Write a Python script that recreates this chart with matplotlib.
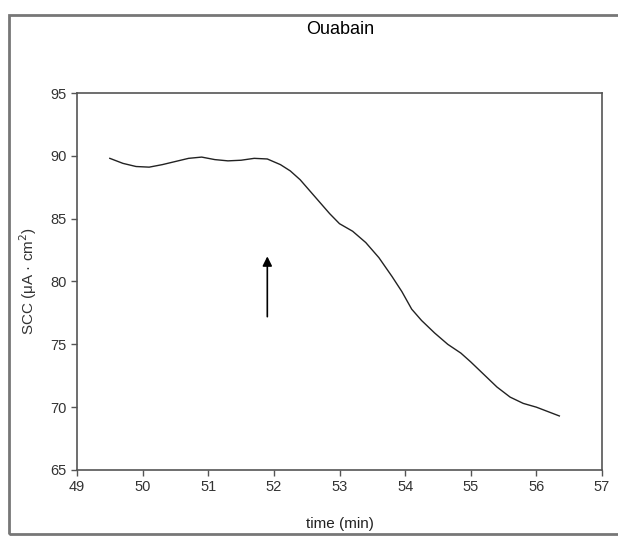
import matplotlib
matplotlib.use("Agg")
import matplotlib.pyplot as plt
from matplotlib.patches import Rectangle

plt.rcParams['font.family'] = ['Liberation Sans', 'DejaVu Sans']

# SCC trace
time_min = [49.5, 49.7, 49.9, 50.1, 50.3, 50.5, 50.7, 50.9, 51.1, 51.3, 51.5,
            51.7, 51.9, 52.1, 52.25, 52.4, 52.55, 52.7, 52.85, 53.0, 53.2,
            53.4, 53.6, 53.8, 53.95, 54.1, 54.25, 54.45, 54.65, 54.85, 55.0,
            55.2, 55.4, 55.6, 55.8, 56.0, 56.2, 56.35]
scc = [89.8, 89.4, 89.15, 89.1, 89.3, 89.55, 89.8, 89.9, 89.7, 89.6, 89.65,
       89.8, 89.75, 89.3, 88.8, 88.1, 87.2, 86.3, 85.4, 84.6, 84.0,
       83.1, 81.9, 80.4, 79.2, 77.8, 76.9, 75.9, 75.0, 74.3, 73.6,
       72.6, 71.6, 70.8, 70.3, 70.0, 69.6, 69.3]

arrow_x = 51.9
arrow_tail = 77.2
arrow_tip = 82.0

fig = plt.figure(figsize=(6.18, 5.36), dpi=100)
ax = fig.add_axes([77 / 618, 1 - 470 / 536, 525 / 618, 377 / 536])

ax.plot(time_min, scc, color='#222222', lw=1.0)
ax.annotate('', xy=(arrow_x, arrow_tip), xytext=(arrow_x, arrow_tail),
            arrowprops=dict(arrowstyle='-|>', color='black', lw=1.2,
                            mutation_scale=14, shrinkA=0, shrinkB=0))

ax.set_xlim(49, 57)
ax.set_ylim(65, 95)
ax.set_xticks(range(49, 58))
ax.set_yticks(range(65, 96, 5))
ax.tick_params(direction='out', length=4, width=1, colors='#555555',
               labelcolor='#333333', labelsize=10.5)
for s in ax.spines.values():
    s.set_color('#555555')
    s.set_linewidth(1.2)

ax.set_xlabel('time (min)', fontsize=11, color='#222222', labelpad=16)
ax.set_ylabel(r'SCC (μA · cm$^{2}$)', fontsize=11, color='#333333', labelpad=8)
fig.text(340 / 618, 1 - 30 / 536, 'Ouabain', ha='center', va='center',
         fontsize=13, color='black')

fig.patches.append(Rectangle((9 / 618, 2 / 536), 610 / 618, 519 / 536,
                             transform=fig.transFigure, fill=False,
                             edgecolor='#777777', lw=2))

fig.savefig('out.png', dpi=100)
